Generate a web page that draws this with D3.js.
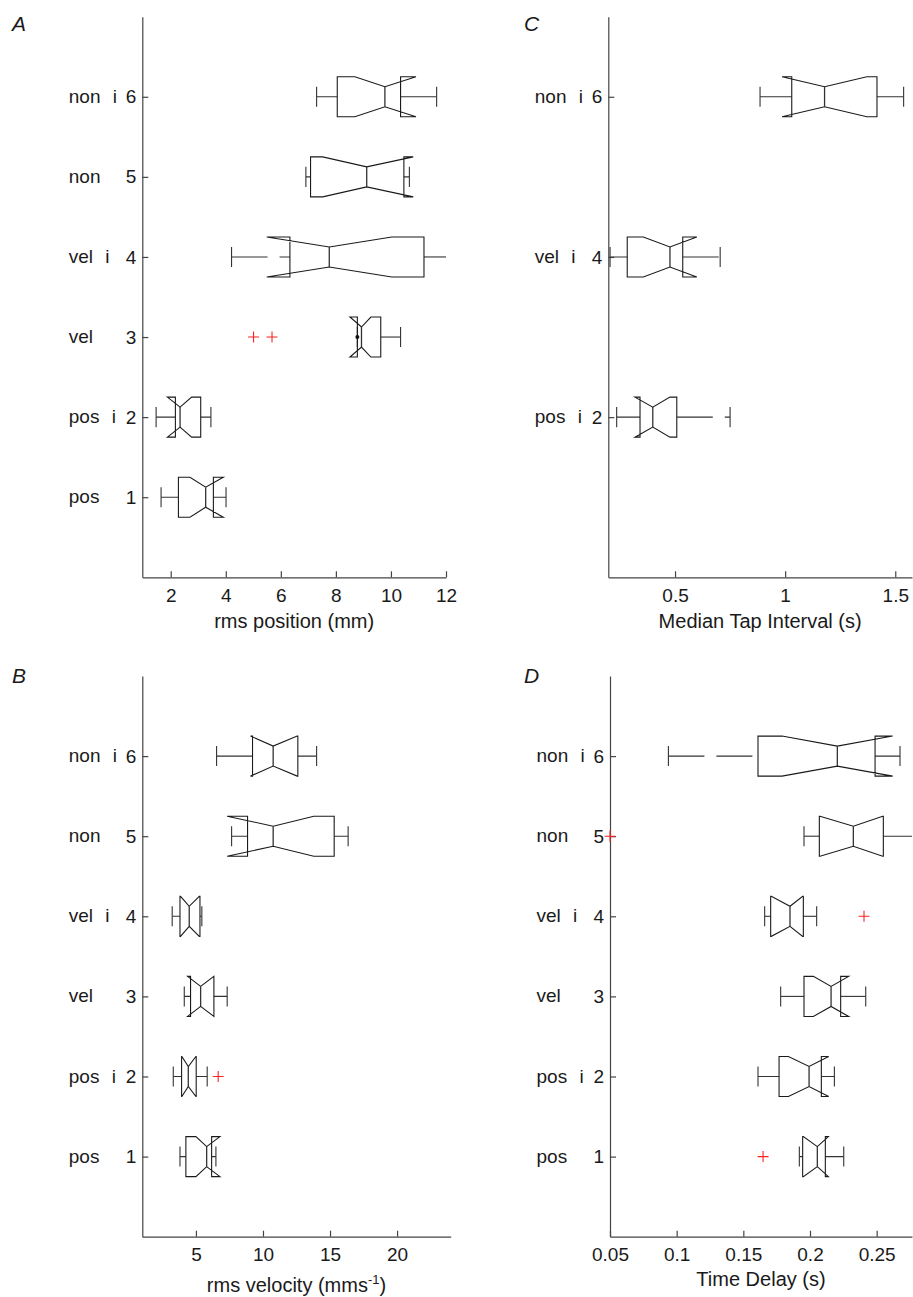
<!DOCTYPE html>
<html>
<head>
<meta charset="utf-8">
<script src="https://cdn.jsdelivr.net/npm/d3@7"></script>
<style>
  html, body { margin: 0; padding: 0; background: #fff; }
  text { font-family: "Liberation Sans", Arial, Helvetica, sans-serif; fill: #1a1a1a; }
</style>
</head>
<body>
<svg id="chart" width="913" height="1297"></svg>
<script>
// ---------- data ----------
const categoryNames = ["pos", "pos i", "vel", "vel i", "non", "non i"];
const groupsAll = [1, 2, 3, 4, 5, 6];
const groupsC = [2, 4, 6];

// Panel A: rms position (mm)
const aWhiskerLo = [1.65, 1.47, 8.78, 4.21, 6.91, 7.30];
const aQ1        = [2.28, 2.17, 8.78, 6.33, 7.08, 8.05];
const aNotchLo   = [2.70, 1.88, 8.51, 5.49, 7.52, 8.69];
const aMedian    = [3.27, 2.34, 8.93, 7.76, 9.12, 9.78];
const aNotchHi   = [3.91, 2.76, 9.27, 10.03, 10.81, 10.91];
const aQ3        = [3.55, 3.09, 9.63, 11.20, 10.47, 10.35];
const aWhiskerHi = [4.01, 3.46, 10.35, 12.30, 10.67, 11.66];
const aOutlierGroups = [3, 3];
const aOutlierValues = [5.01, 5.68];
const aDotGroups = [3];
const aDotValues = [8.78];
const aTicks = [2, 4, 6, 8, 10, 12];

// Panel B: rms velocity (mms^-1)
const bWhiskerLo = [3.81, 3.31, 4.13, 3.23, 7.66, 6.54];
const bQ1        = [4.25, 3.93, 4.60, 3.81, 8.85, 9.22];
const bNotchLo   = [5.00, 3.95, 4.38, 3.85, 7.33, 9.07];
const bMedian    = [5.80, 4.43, 5.35, 4.50, 10.76, 10.76];
const bNotchHi   = [6.79, 5.00, 6.34, 5.25, 13.79, 12.55];
const bQ3        = [6.17, 5.02, 6.34, 5.30, 15.31, 12.60];
const bWhiskerHi = [6.49, 5.84, 7.33, 5.44, 16.35, 14.00];
const bOutlierGroups = [2];
const bOutlierValues = [6.66];
const bTicks = [5, 10, 15, 20];

// Panel C: median tap interval (s), groups 2, 4, 6
const cWhiskerLo = [0.235, 0.205, 0.886];
const cQ1        = [0.341, 0.283, 1.030];
const cNotchLo   = [0.318, 0.356, 0.986];
const cMedian    = [0.399, 0.477, 1.179];
const cNotchHi   = [0.477, 0.599, 1.371];
const cQ3        = [0.508, 0.535, 1.417];
const cWhiskerHi = [0.750, 0.705, 1.538];
const cTicks = [0.5, 1, 1.5];

// Panel D: time delay (s)
const dWhiskerLo = [0.192, 0.161, 0.178, 0.166, 0.1955, 0.0938];
const dQ1        = [0.1945, 0.1768, 0.1955, 0.1705, 0.207, 0.161];
const dNotchLo   = [0.195, 0.1838, 0.2025, 0.171, 0.2075, 0.179];
const dMedian    = [0.2055, 0.1993, 0.2158, 0.185, 0.2325, 0.2205];
const dNotchHi   = [0.2138, 0.214, 0.229, 0.1945, 0.2545, 0.262];
const dQ3        = [0.2115, 0.2085, 0.223, 0.195, 0.255, 0.2488];
const dWhiskerHi = [0.2253, 0.2183, 0.2418, 0.205, 0.285, 0.2675];
const dOutlierGroups = [1, 4, 5];
const dOutlierValues = [0.1648, 0.2405, 0.05];
const dTicks = [0.05, 0.1, 0.15, 0.2, 0.25];

// ---------- drawing ----------
const svg = d3.select("#chart");
svg.append("rect").attr("width", 913).attr("height", 1297).attr("fill", "#fff");

function boxes(groups, wLo, q1, n1, med, n2, q3, wHi) {
  return groups.map((g, i) => ({ g, wLo: wLo[i], q1: q1[i], n1: n1[i], med: med[i], n2: n2[i], q3: q3[i], wHi: wHi[i] }));
}

let clipId = 0;
function drawPanel(p) {
  const x = d3.scaleLinear().domain(p.xDomain).range([p.left, p.right]);
  const y = d3.scaleLinear().domain([0, 7]).range([p.bottom, p.top]);
  const g = svg.append("g");

  // axes
  const xa = g.append("g").attr("transform", `translate(0,${p.bottom})`)
    .call(d3.axisBottom(x).tickValues(p.xTicks).tickFormat(d => String(d))
      .tickSizeInner(-6).tickSizeOuter(0).tickPadding(11));
  const ya = g.append("g").attr("transform", `translate(${p.left},0)`)
    .call(d3.axisLeft(y).tickValues(p.groups).tickFormat(d => String(d))
      .tickSizeInner(-6).tickSizeOuter(0).tickPadding(6));
  [xa, ya].forEach(a => {
    a.select(".domain").attr("stroke", "#444").attr("stroke-width", 1.2);
    a.selectAll(".tick line").attr("stroke", "#444").attr("stroke-width", 1.2);
    a.selectAll("text").attr("font-size", 19).attr("fill", "#1a1a1a")
      .attr("font-family", '"Liberation Sans", Arial, sans-serif');
  });

  // category names
  g.selectAll("text.cat").data(p.groups).enter().append("text")
    .attr("class", "cat")
    .attr("x", p.left - 73.5)
    .attr("y", d => y(d))
    .attr("dy", "0.32em")
    .attr("font-size", 19)
    .style("word-spacing", "7px")
    .text(d => categoryNames[d - 1]);

  // x label
  const lab = g.append("text")
    .attr("x", (p.left + p.right) / 2)
    .attr("y", p.labelY)
    .attr("text-anchor", "middle")
    .attr("font-size", 20);
  p.label(lab);

  // panel letter
  g.append("text").attr("x", p.letterX).attr("y", p.letterY)
    .attr("font-size", 21).attr("font-style", "italic").text(p.letter);

  // clip
  const id = "clip" + (clipId++);
  svg.append("clipPath").attr("id", id).append("rect")
    .attr("x", p.left - 40).attr("y", p.top)
    .attr("width", p.right - p.left + 40).attr("height", p.bottom - p.top);
  const plot = g.append("g").attr("clip-path", `url(#${id})`);

  const hh = y(0) - y(0.25);
  const cap = y(0) - y(0.125);

  p.boxes.forEach(b => {
    const cy = y(b.g);
    // whiskers (dashed, drawn low->high)
    plot.append("line").attr("x1", x(b.wLo)).attr("x2", x(b.q1)).attr("y1", cy).attr("y2", cy)
      .attr("stroke", "#333").attr("stroke-width", 1.1).attr("stroke-dasharray", "36,12");
    plot.append("line").attr("x1", x(b.q3)).attr("x2", x(b.wHi)).attr("y1", cy).attr("y2", cy)
      .attr("stroke", "#333").attr("stroke-width", 1.1).attr("stroke-dasharray", "36,12");
    // caps
    [b.wLo, b.wHi].forEach(v => {
      plot.append("line").attr("x1", x(v)).attr("x2", x(v)).attr("y1", cy - cap).attr("y2", cy + cap)
        .attr("stroke", "#333").attr("stroke-width", 1.1);
    });
    // notched box
    const pts = [
      [x(b.q1), cy - hh], [x(b.n1), cy - hh], [x(b.med), cy - hh / 2], [x(b.n2), cy - hh], [x(b.q3), cy - hh],
      [x(b.q3), cy + hh], [x(b.n2), cy + hh], [x(b.med), cy + hh / 2], [x(b.n1), cy + hh], [x(b.q1), cy + hh]
    ];
    plot.append("path").attr("d", d3.line()(pts) + "Z")
      .attr("fill", "none").attr("stroke", "#1a1a1a").attr("stroke-width", 1.1);
    // median
    plot.append("line").attr("x1", x(b.med)).attr("x2", x(b.med))
      .attr("y1", cy - hh / 2).attr("y2", cy + hh / 2)
      .attr("stroke", "#333").attr("stroke-width", 1.3);
  });

  // outliers
  (p.outGroups || []).forEach((gr, i) => {
    const cx = x(p.outValues[i]), cy = y(gr), s = 5.5;
    g.append("path").attr("d", `M${cx - s},${cy}H${cx + s}M${cx},${cy - s}V${cy + s}`)
      .attr("stroke", "#f22").attr("stroke-width", 1.1).attr("fill", "none");
  });
  // dots
  (p.dotGroups || []).forEach((gr, i) => {
    g.append("circle").attr("cx", x(p.dotValues[i])).attr("cy", y(gr)).attr("r", 2).attr("fill", "#111");
  });
}

drawPanel({
  letter: "A", letterX: 12, letterY: 31,
  left: 142.3, right: 446, top: 16.7, bottom: 577.3,
  xDomain: [0.968, 12], xTicks: aTicks, groups: groupsAll,
  boxes: boxes(groupsAll, aWhiskerLo, aQ1, aNotchLo, aMedian, aNotchHi, aQ3, aWhiskerHi),
  outGroups: aOutlierGroups, outValues: aOutlierValues,
  dotGroups: aDotGroups, dotValues: aDotValues,
  labelY: 628, label: t => t.text("rms position (mm)")
});

drawPanel({
  letter: "B", letterX: 12, letterY: 683,
  left: 142.3, right: 450.7, top: 676, bottom: 1236.7,
  xDomain: [1, 24], xTicks: bTicks, groups: groupsAll,
  boxes: boxes(groupsAll, bWhiskerLo, bQ1, bNotchLo, bMedian, bNotchHi, bQ3, bWhiskerHi),
  outGroups: bOutlierGroups, outValues: bOutlierValues,
  labelY: 1292, label: t => {
    t.append("tspan").text("rms velocity (mms");
    t.append("tspan").attr("font-size", 13).attr("dy", -8).text("-1");
    t.append("tspan").attr("dy", 8).text(")");
  }
});

drawPanel({
  letter: "C", letterX: 524, letterY: 31,
  left: 608.3, right: 912, top: 16.7, bottom: 577.3,
  xDomain: [0.197, 1.576], xTicks: cTicks, groups: groupsC,
  boxes: boxes(groupsC, cWhiskerLo, cQ1, cNotchLo, cMedian, cNotchHi, cQ3, cWhiskerHi),
  labelY: 628, label: t => t.text("Median Tap Interval (s)")
});

drawPanel({
  letter: "D", letterX: 524, letterY: 683,
  left: 610, right: 912, top: 676, bottom: 1236.7,
  xDomain: [0.05, 0.2765], xTicks: dTicks, groups: groupsAll,
  boxes: boxes(groupsAll, dWhiskerLo, dQ1, dNotchLo, dMedian, dNotchHi, dQ3, dWhiskerHi),
  outGroups: dOutlierGroups, outValues: dOutlierValues,
  labelY: 1286, label: t => t.text("Time Delay (s)")
});
</script>
</body>
</html>
